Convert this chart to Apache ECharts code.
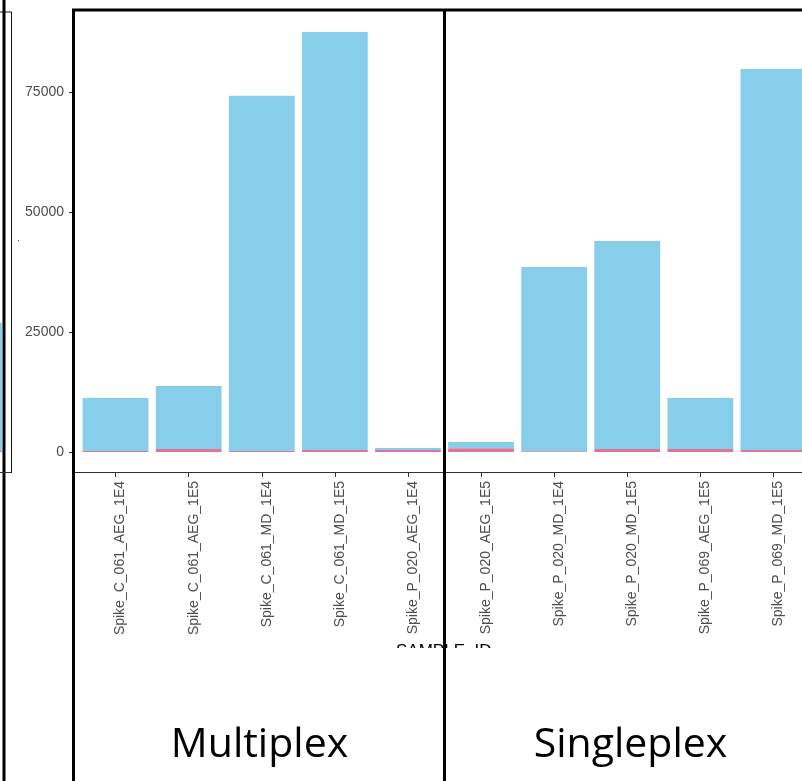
<!DOCTYPE html>
<html>
<head>
<meta charset="utf-8">
<script src="https://cdn.jsdelivr.net/npm/echarts@6/dist/echarts.min.js"></script>
<style>
  html, body { margin: 0; padding: 0; background: #ffffff; overflow: hidden; }
  #wrap { position: relative; width: 802px; height: 781px; overflow: hidden; }
  /* canvas is wider than the view and shifted left so the panels can run past both edges */
  #chart { position: absolute; left: -40px; top: 0; width: 860px; height: 781px; }
</style>
</head>
<body>
<div id="wrap"><div id="chart"></div></div>
<script>
// Sample IDs on the x axis
const samples = [
  'Spike_C_061_AEG_1E4', 'Spike_C_061_AEG_1E5', 'Spike_C_061_MD_1E4', 'Spike_C_061_MD_1E5',
  'Spike_P_020_AEG_1E4', 'Spike_P_020_AEG_1E5', 'Spike_P_020_MD_1E4', 'Spike_P_020_MD_1E5',
  'Spike_P_069_AEG_1E5', 'Spike_P_069_MD_1E5'
];
// Stacked read counts: small pink base segment, sky-blue segment on top
const pinkCounts = [200, 600, 200, 400, 400, 800, 150, 600, 600, 400];
const blueCounts = [11050, 13150, 74000, 87100, 450, 1300, 38400, 43350, 10650, 79400];

// Neighbouring panel (only its right edge is in view)
const sideSamples = ['side'];
const sidePink = [200];
const sideBlue = [26700];

const yTicks = [0, 25000, 50000, 75000];
const panelNames = ['Multiplex', 'Singleplex'];
const xTitle = 'SAMPLE_ID';

const BLUE = '#87CEEB';
const PINK = '#DF7399';
const TXT = '#4D4D4D';
const YMIN = -4375;
const YMAX = 92080;
const DX = 40; // horizontal shift of the canvas

const chart = echarts.init(document.getElementById('chart'), null, { renderer: 'canvas' });

const black = { stroke: '#000', lineWidth: 3 };
const font = 'Liberation Sans, Arial, sans-serif';

chart.setOption({
  animation: false,
  backgroundColor: '#ffffff',
  grid: [
    { left: 79 + DX, width: 731, top: 10, bottom: 308, containLabel: false },
    { left: -38 + DX, width: 42, top: 10, bottom: 308, containLabel: false }
  ],
  xAxis: [
    {
      type: 'category', gridIndex: 0, data: samples,
      axisLine: { show: false, onZero: false },
      axisTick: { show: true, alignWithLabel: true, length: 4, lineStyle: { color: '#333', width: 1 } },
      axisLabel: { interval: 0, rotate: 90, margin: 8, color: TXT, fontSize: 14, fontFamily: font,
        verticalAlign: 'top', lineHeight: 10 }
    },
    {
      type: 'category', gridIndex: 1, data: sideSamples,
      axisLine: { show: false, onZero: false }, axisTick: { show: false }, axisLabel: { show: false }
    }
  ],
  yAxis: [
    {
      type: 'value', gridIndex: 0, min: YMIN, max: YMAX, offset: 6,
      splitLine: { show: false },
      axisLine: { show: false },
      axisTick: { show: true, length: 4, customValues: yTicks, lineStyle: { color: '#333', width: 1 } },
      axisLabel: { customValues: yTicks, margin: 9, color: TXT, fontSize: 14, fontFamily: font,
        formatter: v => String(v) }
    },
    {
      type: 'value', gridIndex: 1, min: YMIN, max: YMAX,
      splitLine: { show: false }, axisLine: { show: false }, axisTick: { show: false }, axisLabel: { show: false }
    }
  ],
  series: [
    { type: 'bar', name: 'base', stack: 'a', xAxisIndex: 0, yAxisIndex: 0, data: pinkCounts,
      barCategoryGap: '10%', itemStyle: { color: PINK }, z: 2 },
    { type: 'bar', name: 'reads', stack: 'a', xAxisIndex: 0, yAxisIndex: 0, data: blueCounts,
      barCategoryGap: '10%', itemStyle: { color: BLUE }, z: 2 },
    { type: 'bar', name: 'sideBase', stack: 'b', xAxisIndex: 1, yAxisIndex: 1, data: sidePink,
      barCategoryGap: '10%', itemStyle: { color: PINK }, z: 2 },
    { type: 'bar', name: 'sideReads', stack: 'b', xAxisIndex: 1, yAxisIndex: 1, data: sideBlue,
      barCategoryGap: '10%', itemStyle: { color: BLUE }, z: 2 }
  ],
  graphic: [
    // x axis title, partly hidden under the panel strip
    { type: 'text', left: 396 + DX, top: 643, z: 10,
      style: { text: xTitle, fill: '#000', font: '17px "Liberation Sans", Arial, sans-serif' } },
    { type: 'rect', shape: { x: 76 + DX, y: 648, width: 780, height: 133 }, z: 11, style: { fill: '#fff' } },
    // x axis baseline
    { type: 'line', shape: { x1: 73 + DX, y1: 472.5, x2: 860, y2: 472.5 }, z: 12, style: { stroke: '#333', lineWidth: 1.2 } },
    // neighbouring panel frame
    { type: 'line', shape: { x1: 4 + DX, y1: 0, x2: 4 + DX, y2: 781 }, z: 12, style: black },
    { type: 'line', shape: { x1: 11.5 + DX, y1: 12, x2: 11.5 + DX, y2: 473 }, z: 12, style: { stroke: '#111', lineWidth: 1 } },
    { type: 'line', shape: { x1: DX - 5, y1: 12, x2: 11.5 + DX, y2: 12 }, z: 12, style: { stroke: '#111', lineWidth: 1 } },
    { type: 'line', shape: { x1: DX - 5, y1: 472.5, x2: 11.5 + DX, y2: 472.5 }, z: 12, style: { stroke: '#333', lineWidth: 1 } },
    { type: 'rect', shape: { x: 18 + DX, y: 240, width: 1, height: 1 }, z: 12, style: { fill: '#555' } },
    // main panel frame
    { type: 'line', shape: { x1: 73.5 + DX, y1: 9, x2: 73.5 + DX, y2: 781 }, z: 12, style: black },
    { type: 'line', shape: { x1: 72 + DX, y1: 10, x2: 860, y2: 10 }, z: 12, style: black },
    { type: 'line', shape: { x1: 444.5 + DX, y1: 9, x2: 444.5 + DX, y2: 781 }, z: 12, style: black },
    // panel labels
    { type: 'text', x: 259.5 + DX, y: 745, z: 13,
      style: { text: panelNames[0], fill: '#000', font: '41px "Open Sans", sans-serif', align: 'center', verticalAlign: 'middle' } },
    { type: 'text', x: 630.5 + DX, y: 745, z: 13,
      style: { text: panelNames[1], fill: '#000', font: '41px "Open Sans", sans-serif', align: 'center', verticalAlign: 'middle' } }
  ]
});
</script>
</body>
</html>
